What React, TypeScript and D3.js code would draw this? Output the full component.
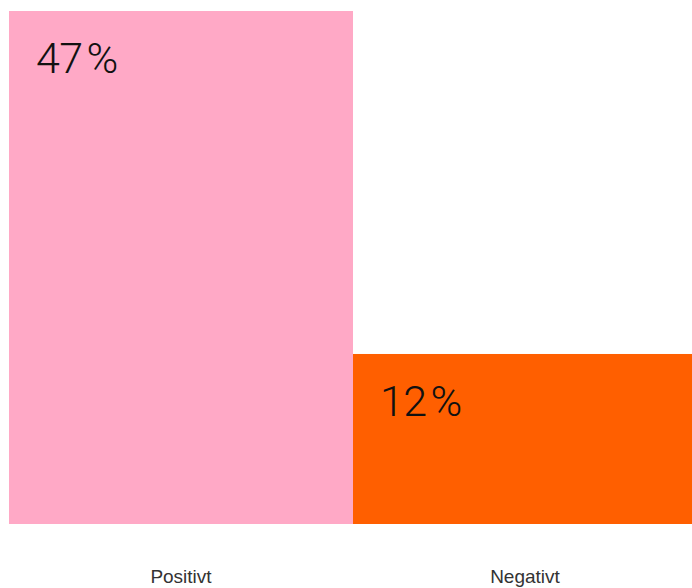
import React from 'react';
import * as d3 from 'd3';

// chart data
const categories = ['Positivt', 'Negativt'];
const values = [47, 12];
const valueLabels = ['47\u200A%', '12\u200A%'];
const colors = ['#FFA9C6', '#FF5F00'];
// the bars do not start from zero in the original, so the baseline sits below 0
const yFloor = -5.35;

const App = () => {
    const svgWidth = 684;
    const svgHeight = 580;
    const margin = { top: 3, left: 1, bottom: 64 };
    const bandWidth = 344;

    const xScale = d3.scaleBand<string>()
        .domain(categories)
        .range([margin.left, margin.left + bandWidth * categories.length])
        .padding(0);

    const yScale = d3.scaleLinear()
        .domain([yFloor, d3.max(values) as number])
        .range([svgHeight - margin.bottom, margin.top]);

    const baseY = yScale(yFloor);

    return (
        <div>
            <style>{'html, body { overflow: hidden; } body { margin-right: 0; }'}</style>
            <svg width={svgWidth} height={svgHeight} style={{ display: 'block' }}>
                {categories.map((cat, i) => {
                    const x = xScale(cat) as number;
                    const y = yScale(values[i]);
                    return (
                        <g key={cat}>
                            <rect
                                x={x}
                                y={y}
                                width={xScale.bandwidth()}
                                height={baseY - y}
                                fill={colors[i]}
                            />
                            <text
                                x={x + 27}
                                y={y + 62}
                                fontFamily="Roboto, 'Liberation Sans', sans-serif"
                                fontWeight={300}
                                fontSize={43}
                                letterSpacing={-0.5}
                                fill="#111"
                            >
                                {valueLabels[i]}
                            </text>
                            <text
                                x={x + xScale.bandwidth() / 2}
                                y={baseY + 59}
                                textAnchor="middle"
                                fontFamily="'Liberation Sans', Arial, sans-serif"
                                fontSize={19}
                                fill="#333"
                            >
                                {cat}
                            </text>
                        </g>
                    );
                })}
            </svg>
        </div>
    );
};

export default App;
